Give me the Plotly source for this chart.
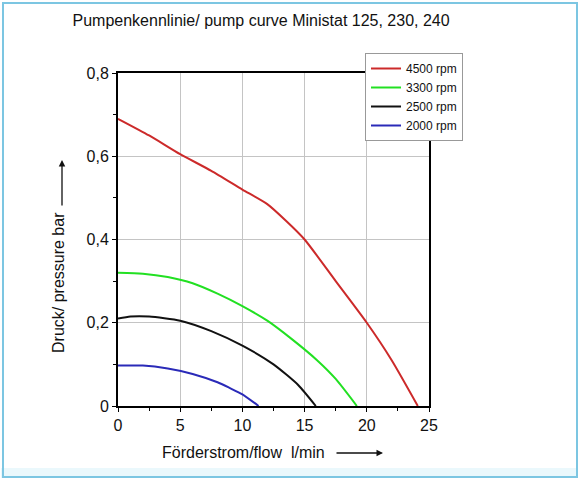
import plotly.graph_objects as go

# ---- data ----
series_names = ["4500 rpm", "3300 rpm", "2500 rpm", "2000 rpm"]
series_colors = ["#cc2a2a", "#22e022", "#111111", "#2a2ab8"]

flow_4500 = [0, 2.5, 5, 7.5, 10, 12, 13.5, 15, 17.5, 20, 22, 24.1]
pres_4500 = [0.69, 0.65, 0.605, 0.565, 0.52, 0.485, 0.445, 0.40, 0.30, 0.20, 0.11, 0.0]

flow_3300 = [0, 2, 4, 6, 8, 10, 12, 14, 16, 17.5, 19.2]
pres_3300 = [0.32, 0.318, 0.31, 0.295, 0.27, 0.24, 0.205, 0.16, 0.11, 0.065, 0.0]

flow_2500 = [0, 1, 2.5, 5, 7.5, 10, 12.5, 14.5, 15.9]
pres_2500 = [0.21, 0.215, 0.215, 0.205, 0.18, 0.145, 0.10, 0.05, 0.0]

flow_2000 = [0, 2, 4, 6, 8, 9, 10, 11.3]
pres_2000 = [0.097, 0.097, 0.09, 0.077, 0.057, 0.043, 0.028, 0.0]

x_ticks = [0, 5, 10, 15, 20, 25]
x_ticklabels = ["0", "5", "10", "15", "20", "25"]
y_ticks = [0, 0.2, 0.4, 0.6, 0.8]
y_ticklabels = ["0", "0,2", "0,4", "0,6", "0,8"]

title_text = "Pumpenkennlinie/ pump curve Ministat 125, 230, 240"
x_title = "Förderstrom/flow  l/min"
y_title = "Druck/ pressure bar"

xs = [flow_4500, flow_3300, flow_2500, flow_2000]
ys = [pres_4500, pres_3300, pres_2500, pres_2000]

fig = go.Figure()
for name, color, x, y in zip(series_names, series_colors, xs, ys):
    fig.add_trace(go.Scatter(x=x, y=y, mode="lines", name=name,
                             line=dict(color=color, width=2, shape="spline", smoothing=0.6)))

FONT = "Liberation Sans, Arial, sans-serif"
L, R, T, B = 118, 151, 73, 75
W, H = 580, 481
pw, ph = W - L - R, H - T - B

def px(xp):
    return (xp - L) / pw

def py(yp):
    return (H - B - yp) / ph

fig.update_layout(
    width=W, height=H,
    margin=dict(l=L, r=R, t=T, b=B),
    paper_bgcolor="white", plot_bgcolor="white",
    font=dict(family=FONT, color="#111111", size=16),
    showlegend=True,
    legend=dict(x=px(365), y=py(53), xanchor="left", yanchor="top",
                bgcolor="white", bordercolor="#999999", borderwidth=1,
                font=dict(size=12, family=FONT), tracegroupgap=0,
                itemwidth=30),
    title=dict(text=title_text, x=px(258), xanchor="center", y=1 - 20 / H, yanchor="middle",
               font=dict(size=16, family=FONT)),
)

fig.update_xaxes(range=[0, 25], tickvals=x_ticks, ticktext=x_ticklabels,
                 showgrid=True, gridcolor="#c4c4c4", gridwidth=1,
                 showline=True, linecolor="black", linewidth=2, mirror=True,
                 ticks="outside", ticklen=4, tickcolor="black", tickwidth=1,
                 minor=dict(dtick=2.5, ticks="outside", ticklen=3, tickcolor="black", showgrid=False),
                 zeroline=False, tickfont=dict(size=16))
fig.update_yaxes(range=[0, 0.8], tickvals=y_ticks, ticktext=y_ticklabels,
                 showgrid=True, gridcolor="#c4c4c4", gridwidth=1,
                 showline=True, linecolor="black", linewidth=2, mirror=True,
                 ticks="outside", ticklen=4, tickcolor="black", tickwidth=1,
                 minor=dict(dtick=0.1, ticks="outside", ticklen=3, tickcolor="black", showgrid=False),
                 zeroline=False, tickfont=dict(size=16))

# axis titles with arrows
fig.add_annotation(x=px(160), y=py(452), xref="paper", yref="paper", text=x_title,
                   showarrow=False, xanchor="left", yanchor="middle", font=dict(size=16))
fig.add_annotation(x=px(383), y=py(453), xref="paper", yref="paper", ax=-48, ay=0,
                   text="", showarrow=True, arrowhead=2, arrowsize=1, arrowwidth=1.3, arrowcolor="#111111")
fig.add_annotation(x=px(58), y=py(283), xref="paper", yref="paper", text=y_title,
                   showarrow=False, textangle=-90, xanchor="center", yanchor="middle", font=dict(size=16))
fig.add_annotation(x=px(62), y=py(160), xref="paper", yref="paper", ax=0, ay=47,
                   text="", showarrow=True, arrowhead=2, arrowsize=1, arrowwidth=1.3, arrowcolor="#111111")

# outer light-blue frame
fig.add_shape(type="rect", xref="paper", yref="paper",
              x0=px(1), x1=px(578), y0=py(468), y1=py(478),
              line=dict(width=0), fillcolor="#eaf8fc", layer="below")
fig.add_shape(type="rect", xref="paper", yref="paper",
              x0=px(3), x1=px(577), y0=py(477), y1=py(3),
              line=dict(color="#7cc6e2", width=2), fillcolor="rgba(0,0,0,0)")

fig.write_html("out.html")
